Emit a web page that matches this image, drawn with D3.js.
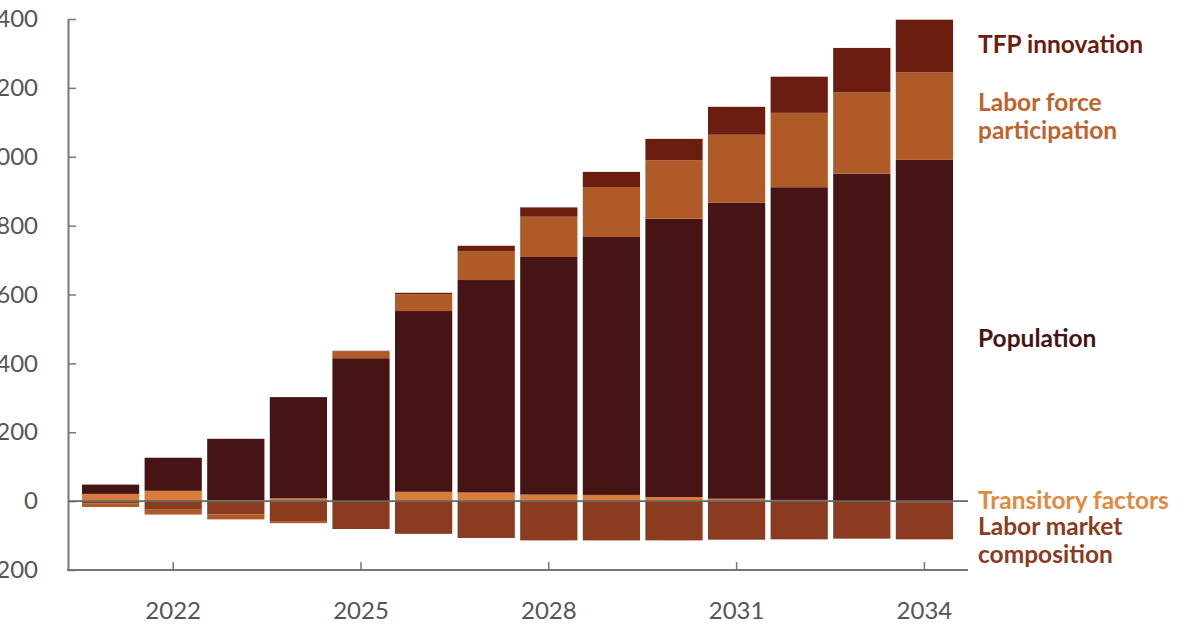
<!DOCTYPE html>
<html>
<head>
<meta charset="utf-8">
<script src="https://cdn.jsdelivr.net/npm/d3@7"></script>
<style>
  html, body { margin: 0; padding: 0; background: #fff; }
  svg { display: block; }
</style>
</head>
<body>
<svg id="chart" width="1200" height="628"></svg>
<script>
// ---- data ----
const years        = [2021, 2022, 2023, 2024, 2025, 2026, 2027, 2028, 2029, 2030, 2031, 2032, 2033, 2034];
const transitory   = [21, 30, 3, 8, 0, 27, 25, 19, 18, 12, 7, 3.5, 0, -3];
const population   = [27, 96, 178, 294, 415, 525, 617, 690, 749, 808, 860, 908, 951, 991];
const laborMarket  = [-6, -25, -39, -58, -81, -95, -107, -114, -114, -114, -112, -111, -109, -108];
const laborForce   = [-11, -14, -14, -6, 20, 49, 83, 117, 145, 170, 197, 216, 236, 254];
const tfp          = [0, 0, 0, 0, 1.5, 4, 16.5, 27, 44, 62, 81, 105, 129, 153];
const yTicks       = [-200, 0, 200, 400, 600, 800, 1000, 1200, 1400];
const xTickYears   = [2022, 2025, 2028, 2031, 2034];
const seriesKeys   = ["transitory", "population", "laborMarket", "laborForce", "tfp"];
const seriesColors = ["#d87b3b", "#461414", "#8a3b20", "#b05a28", "#6b1d10"];
const labelTexts   = [["TFP innovation"], ["Labor force", "participation"], ["Population"], ["Transitory factors"], ["Labor market", "composition"]];
const labelColors  = ["#6b1d10", "#c0632b", "#461414", "#e08a40", "#8a3b20"];
const labelValues  = [1327, 1118, 471, 3, -115];

// ---- build table ----
const table = years.map((yr, i) => ({
  year: yr,
  transitory: transitory[i],
  population: population[i],
  laborMarket: laborMarket[i],
  laborForce: laborForce[i],
  tfp: tfp[i]
}));

const svg = d3.select("#chart");
const font = "Lato, 'Open Sans', sans-serif";

const x = d3.scaleBand().domain(years).range([79.3, 955.7]).paddingInner(0.086).paddingOuter(0.043);
const y = d3.scaleLinear().domain([-200, 1400]).range([570, 19]);

const stack = d3.stack().keys(seriesKeys).offset(d3.stackOffsetDiverging);
const stacked = stack(table);
const color = d3.scaleOrdinal().domain(seriesKeys).range(seriesColors);

// bars
svg.append("g").selectAll("g").data(stacked).join("g")
  .attr("fill", d => color(d.key))
  .selectAll("rect").data(d => d).join("rect")
  .attr("x", d => x(d.data.year))
  .attr("width", x.bandwidth())
  .attr("y", d => y(Math.max(d[0], d[1])))
  .attr("height", d => Math.abs(y(d[0]) - y(d[1])));

const axisColor = "#777";

// left axis
const yAxis = d3.axisLeft(y).tickValues(yTicks).tickSize(-8).tickSizeOuter(0).tickPadding(30)
  .tickFormat(d3.format(","));
const gy = svg.append("g").attr("transform", "translate(68,0)").call(yAxis);
gy.select(".domain").attr("stroke", axisColor).attr("stroke-width", 2);
gy.selectAll(".tick line").attr("stroke", axisColor).attr("stroke-width", 1.5);
gy.selectAll(".tick text").attr("fill", "#555").style("font-family", font).style("font-size", "24px");

// bottom axis
const xAxis = d3.axisBottom(x).tickValues(xTickYears).tickSize(-8).tickSizeOuter(0).tickPadding(32);
const gx = svg.append("g").attr("transform", "translate(0,570)").call(xAxis);
gx.select(".domain").remove();
gx.selectAll(".tick line").attr("stroke", axisColor).attr("stroke-width", 1.5);
gx.selectAll(".tick text").attr("fill", "#555").style("font-family", font).style("font-size", "24px");
svg.append("line").attr("x1", 67).attr("x2", 968).attr("y1", y(-200)).attr("y2", y(-200))
  .attr("stroke", axisColor).attr("stroke-width", 2);

// zero line
svg.append("line").attr("x1", 68).attr("x2", 968).attr("y1", y(0)).attr("y2", y(0))
  .attr("stroke", "#666").attr("stroke-width", 1.6);

// right labels
const lg = svg.append("g");
labelTexts.forEach((lines, i) => {
  const cy = y(labelValues[i]);
  const lh = 28;
  const startY = cy - (lines.length - 1) * lh / 2;
  const t = lg.append("text").attr("x", 978).attr("fill", labelColors[i])
    .style("font-family", font).style("font-size", "24.5px").style("font-weight", "bold");
  lines.forEach((ln, j) => {
    t.append("tspan").attr("x", 978).attr("y", startY + j * lh).attr("dy", "0.35em").text(ln);
  });
});
</script>
</body>
</html>
